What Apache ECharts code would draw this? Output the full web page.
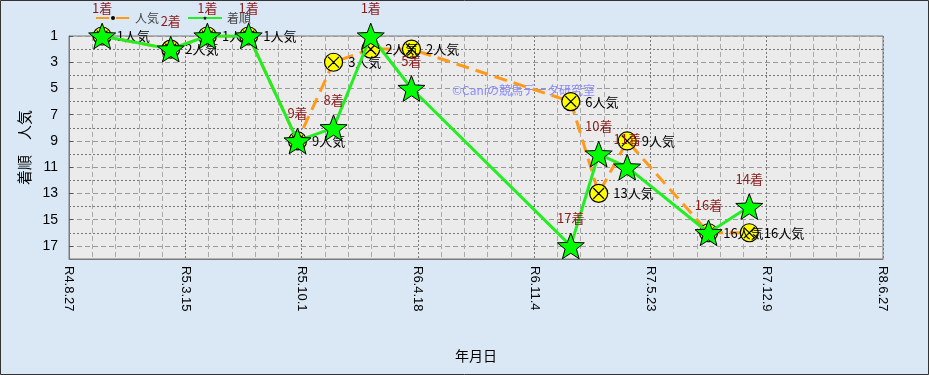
<!DOCTYPE html>
<html>
<head>
<meta charset="utf-8">
<script src="https://cdn.jsdelivr.net/npm/echarts@6/dist/echarts.min.js"></script>
<style>
html,body{margin:0;padding:0;background:#dce9f6;}
#c{width:929px;height:375px;}
</style>
</head>
<body>
<div id="c"></div>
<script>
// ---- data ----
const dates  = ['2022-10-23','2023-02-18','2023-04-22','2023-07-02','2023-09-24','2023-11-25','2024-01-28','2024-04-07','2025-01-06','2025-02-23','2025-04-13','2025-08-31','2025-11-09'];
const finish = [1, 2, 1, 1, 9, 8, 1, 5, 17, 10, 11, 16, 14];
const pop    = [1, 2, 1, 1, 9, 3, 2, 2, 6, 13, 9, 16, 16];
const xStart = '2022-08-27';
const xEnd   = '2026-06-27';
const xTickDays = 200;
const yMin = 1, yMax = 18, yTickStep = 2;
const seriesNames = ['人気', '着順'];
const watermark = '©Caniの競馬データ研究室';

const DAY = 86400000;
const toTs = s => { const [y, m, d] = s.split('-').map(Number); return Date.UTC(y, m - 1, d); };
const reiwa = ts => { const dt = new Date(ts); return 'R' + (dt.getUTCFullYear() - 2018) + '.' + (dt.getUTCMonth() + 1) + '.' + dt.getUTCDate(); };

const STAR = 'path://M0,-10 L2.47,-3.4 L9.51,-3.09 L3.99,1.3 L5.88,8.09 L0,4.2 L-5.88,8.09 L-3.99,1.3 L-9.51,-3.09 L-2.47,-3.4 Z';
const CIRCX = 'path://M10,0 A10,10 0 1,1 -10,0 A10,10 0 1,1 10,0 Z M-6,-6 L6,6 M6,-6 L-6,6';
const FONT = '"Noto Sans CJK JP", "Noto Sans", sans-serif';

const chart = echarts.init(document.getElementById('c'), null, {renderer: 'canvas'});
chart.setOption({
  animation: false,
  backgroundColor: '#dae8f6',
  textStyle: {fontFamily: FONT},
  legend: {
    data: seriesNames,
    left: 90, top: 7,
    itemWidth: 34, itemHeight: 5, itemGap: 28,
    textStyle: {fontSize: 12, color: '#444', fontFamily: FONT},
    itemStyle: {color: '#000', borderWidth: 0}
  },
  grid: {
    left: 69, right: 46, top: 36, bottom: 116,
    show: true, backgroundColor: '#ebebeb', borderColor: '#7a7a7a', borderWidth: 1
  },
  xAxis: {
    type: 'value',
    min: toTs(xStart), max: toTs(xEnd), interval: xTickDays * DAY,
    name: '年月日', nameLocation: 'middle', nameGap: 90,
    nameTextStyle: {fontSize: 14, color: '#000', fontFamily: FONT},
    axisLine: {show: true, lineStyle: {color: '#7a7a7a'}},
    axisTick: {show: false},
    axisLabel: {rotate: -90, margin: 7, fontSize: 13, color: '#000', fontFamily: 'Liberation Sans, Arial, sans-serif', formatter: v => reiwa(v), showMaxLabel: true, showMinLabel: true},
    splitLine: {show: true, lineStyle: {color: '#777', type: [2, 2], width: 1}},
    minorTick: {show: false, splitNumber: 5},
    minorSplitLine: {show: true, lineStyle: {color: '#aaa', type: [5, 3], width: 1}}
  },
  yAxis: {
    type: 'value', inverse: true,
    min: yMin, max: yMax, interval: yTickStep,
    name: '着順　人気', nameLocation: 'middle', nameGap: 30,
    nameTextStyle: {fontSize: 15, color: '#000', fontFamily: FONT},
    axisLine: {show: true, lineStyle: {color: '#7a7a7a'}},
    axisTick: {show: true, inside: true, length: 4, lineStyle: {color: '#555'}},
    axisLabel: {fontSize: 14, color: '#000', margin: 11, fontFamily: 'Liberation Sans, Arial, sans-serif', showMaxLabel: false},
    splitLine: {show: true, lineStyle: {color: '#999', type: [5, 3], width: 1}},
    minorTick: {show: false, splitNumber: 2},
    minorSplitLine: {show: true, lineStyle: {color: '#777', type: [2, 2], width: 1}}
  },
  graphic: [
    {type: 'text', left: 452, top: 84, z: 1, style: {text: watermark, fill: '#8a8aff', font: '12px ' + FONT}},
    {type: 'rect', z: 100, shape: {x: 0.5, y: 0.5, width: 928, height: 374}, style: {fill: 'none', stroke: '#333', lineWidth: 1}}
  ],
  series: [
    {
      name: seriesNames[0], type: 'line', z: 2,
      data: dates.map((d, i) => [toTs(d), pop[i]]),
      symbol: CIRCX, symbolSize: 18, showAllSymbol: true,
      lineStyle: {color: '#ff9a1a', width: 3, type: [13, 7]},
      itemStyle: {color: '#ffff00', borderColor: '#000', borderWidth: 1.2},
      label: {show: true, position: 'right', distance: 5, fontSize: 13, color: '#000', fontFamily: FONT,
              formatter: p => p.value[1] + '人気'}
    },
    {
      name: seriesNames[1], type: 'line', z: 3,
      data: dates.map((d, i) => [toTs(d), finish[i]]),
      symbol: STAR, symbolSize: 27, symbolKeepAspect: true, showAllSymbol: true,
      lineStyle: {color: '#22ee22', width: 3},
      itemStyle: {color: '#00ff00', borderColor: '#000', borderWidth: 1},
      label: {show: true, position: 'top', distance: 8, fontSize: 13, color: '#8b1a1a', fontFamily: FONT,
              formatter: p => p.value[1] + '着'}
    }
  ]
});
</script>
</body>
</html>
